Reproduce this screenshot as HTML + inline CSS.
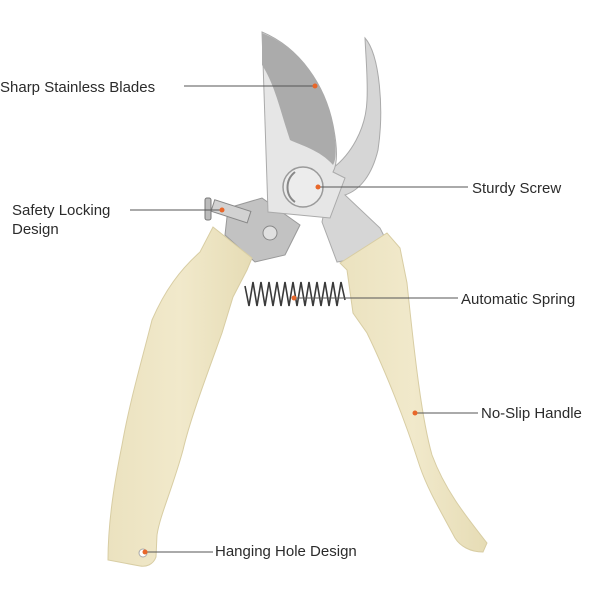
<!DOCTYPE html>
<html><head><meta charset="utf-8"><style>
html,body{margin:0;padding:0;background:#fff;width:600px;height:600px;overflow:hidden}
svg{display:block}
text{font-family:"Liberation Sans",sans-serif;font-size:15px;fill:#2b2b2b}
</style></head><body>
<svg width="600" height="600" viewBox="0 0 600 600" xmlns="http://www.w3.org/2000/svg">
<defs>
<linearGradient id="hd" x1="0" y1="0" x2="1" y2="0">
<stop offset="0" stop-color="#ebe2bf"/><stop offset="0.5" stop-color="#f1e9cb"/><stop offset="1" stop-color="#e6dcb5"/></linearGradient>
</defs>
<!-- lower right blade -->
<path d="M365,38 C380,55 384,110 378,150 C372,175 360,190 345,195 L380,228 L392,252 L337,262 L322,222 L333,168 C350,155 366,130 367,100 C368,80 366,60 365,38 Z" fill="#d6d6d6" stroke="#aaa" stroke-width="1"/>
<!-- left lever plate -->
<path d="M228,208 L262,198 L300,225 L285,255 L255,262 L225,235 Z" fill="#c2c2c2" stroke="#999" stroke-width="1"/>
<!-- upper blade body -->
<path d="M262,32 C300,48 325,85 333,125 C338,150 337,165 333,172 L345,178 L330,218 L268,212 Z" fill="#e6e6e6" stroke="#aaa" stroke-width="1"/>
<path d="M262,33 C300,48 325,85 333,125 C337,150 336,160 333,165 C320,150 300,145 290,140 C280,110 275,85 262,65 Z" fill="#ababab"/>
<!-- screw -->
<circle cx="303" cy="187" r="20" fill="#ececec" stroke="#9a9a9a" stroke-width="1.5"/>
<path d="M295,172 C285,180 285,195 295,202" fill="none" stroke="#888" stroke-width="2"/>
<circle cx="270" cy="233" r="7" fill="#e0e0e0" stroke="#888"/>
<rect x="212" y="205" width="38" height="12" fill="#d2d2d2" stroke="#888" transform="rotate(18 230 211)"/>
<rect x="205" y="198" width="6" height="22" rx="2" fill="#bbb" stroke="#777"/>
<!-- spring -->
<path d="M245,286 L249,306 L253,282 L257,306 L261,282 L265,306 L269,282 L273,306 L277,282 L281,306 L285,282 L289,306 L293,282 L297,306 L301,282 L305,306 L309,282 L313,306 L317,282 L321,306 L325,282 L329,306 L333,282 L337,306 L341,282 L345,300" fill="none" stroke="#3a3a3a" stroke-width="1.6"/>
<!-- left handle -->
<path d="M213,227 L252,258 L247,270 L233,297 L222,333 C205,380 190,420 183,450 C172,490 160,515 157,535 L156,557 C153,565 146,567 140,566 L108,560 C108,520 115,480 122,445 C130,400 142,360 152,320 C165,290 180,270 200,252 Z" fill="url(#hd)" stroke="#d8cda3" stroke-width="1"/>
<!-- right handle -->
<path d="M340,263 L387,233 L400,248 L407,283 C415,360 422,420 432,455 C445,490 465,515 487,543 L483,552 C470,552 460,546 455,538 C440,510 428,490 420,467 C405,420 385,370 367,333 L353,313 L347,270 Z" fill="url(#hd)" stroke="#d8cda3" stroke-width="1"/>
<circle cx="143" cy="553" r="4" fill="#fff" stroke="#aaa"/>
<g stroke="#555" stroke-width="1">
<line x1="184" y1="86" x2="315" y2="86"/>
<line x1="130" y1="210" x2="222" y2="210"/>
<line x1="318" y1="187" x2="468" y2="187"/>
<line x1="294" y1="298" x2="458" y2="298"/>
<line x1="415" y1="413" x2="478" y2="413"/>
<line x1="145" y1="552" x2="213" y2="552"/>
</g>
<g fill="#e8672a">
<circle cx="315" cy="86" r="2.5"/><circle cx="222" cy="210" r="2.5"/><circle cx="318" cy="187" r="2.5"/>
<circle cx="294" cy="298" r="2.5"/><circle cx="415" cy="413" r="2.5"/><circle cx="145" cy="552" r="2.5"/>
</g>
<text x="0" y="92">Sharp Stainless Blades</text>
<text x="12" y="215">Safety Locking</text>
<text x="12" y="234">Design</text>
<text x="472" y="193">Sturdy Screw</text>
<text x="461" y="304">Automatic Spring</text>
<text x="481" y="418">No-Slip Handle</text>
<text x="215" y="556">Hanging Hole Design</text>
</svg>
</body></html>
